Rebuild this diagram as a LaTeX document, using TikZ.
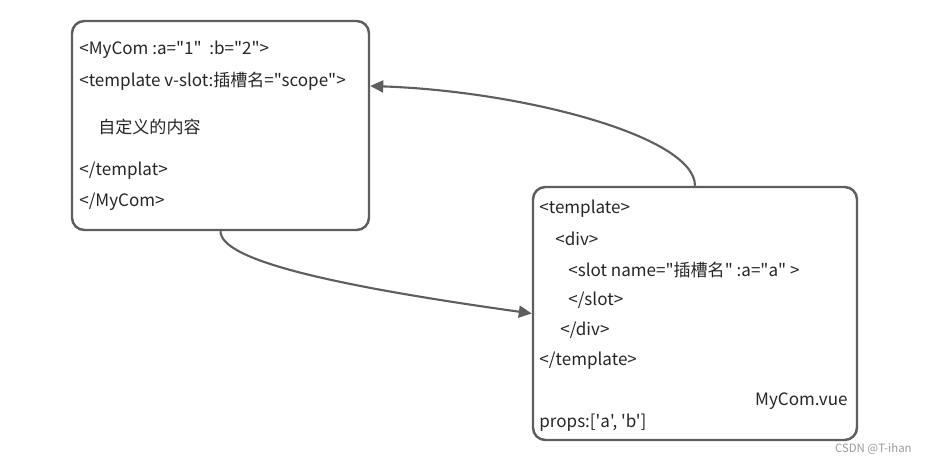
\documentclass[tikz,border=0pt]{standalone}
\usepackage{fontspec}
\setmainfont{Noto Sans CJK SC}[Ligatures=TeXOff]
\usetikzlibrary{arrows.meta}
\definecolor{boxgray}{HTML}{5E5E5E}
\definecolor{codetext}{HTML}{262626}
\definecolor{markgray}{HTML}{9A9A9A}

\begin{document}
\begin{tikzpicture}[
  every node/.style={inner sep=0pt, anchor=west, text=codetext, font=\fontsize{9.7}{11}\selectfont},
  card/.style={anchor=center, draw=boxgray, line width=1.4pt, rounded corners=7pt},
  arrow/.style={-{Triangle[length=2.6mm,width=2.4mm]}, line width=1.2pt, boxgray}
]
\useasboundingbox (0,0) rectangle (18.52,9.24);

%% Left box: using the component
\node[card, minimum width=5.94cm, minimum height=4.18cm] (usage) at (4.41,6.73) {};
\node (u1) at (1.58,8.24) {<MyCom :a="1"\ \ :b="2">};
\node (u2) at (1.58,7.62) {<template v-slot:插槽名="scope">};
\node (u3) at (1.96,6.70) {自定义的内容};
\node (u4) at (1.58,5.82) {</templat>};
\node (u5) at (1.58,5.20) {</MyCom>};

%% Right box: the component file
\node[card, minimum width=6.48cm, minimum height=5.06cm] (mycom) at (13.90,2.97) {};
\node (c1) at (10.78,5.06) {<template>};
\node (c2) at (11.10,4.46) {<div>};
\node (c3) at (11.36,3.84) {<slot name="插槽名" :a="a" >};
\node (c4) at (11.36,3.24) {</slot>};
\node (c5) at (11.20,2.64) {</div>};
\node (c6) at (10.78,2.02) {</template>};
\node[anchor=east] (fname) at (16.96,1.22) {MyCom.vue};
\node (props) at (10.78,0.78) {props:['a', 'b']};

%% Watermark
\node[anchor=east, text=markgray, font=\fontsize{6.5}{8}\selectfont] (mark) at (18.24,0.26) {CSDN @T-ihan};

%% Arrows
\draw[arrow] (usage.south) .. controls +(0,-0.56) and +(-4.14,0.58) .. (mycom.west);
\draw[arrow] (mycom.north) .. controls +(0,1.0) and +(3.0,-0.1) .. ([yshift=0.79cm]usage.east);

\end{tikzpicture}
\end{document}
